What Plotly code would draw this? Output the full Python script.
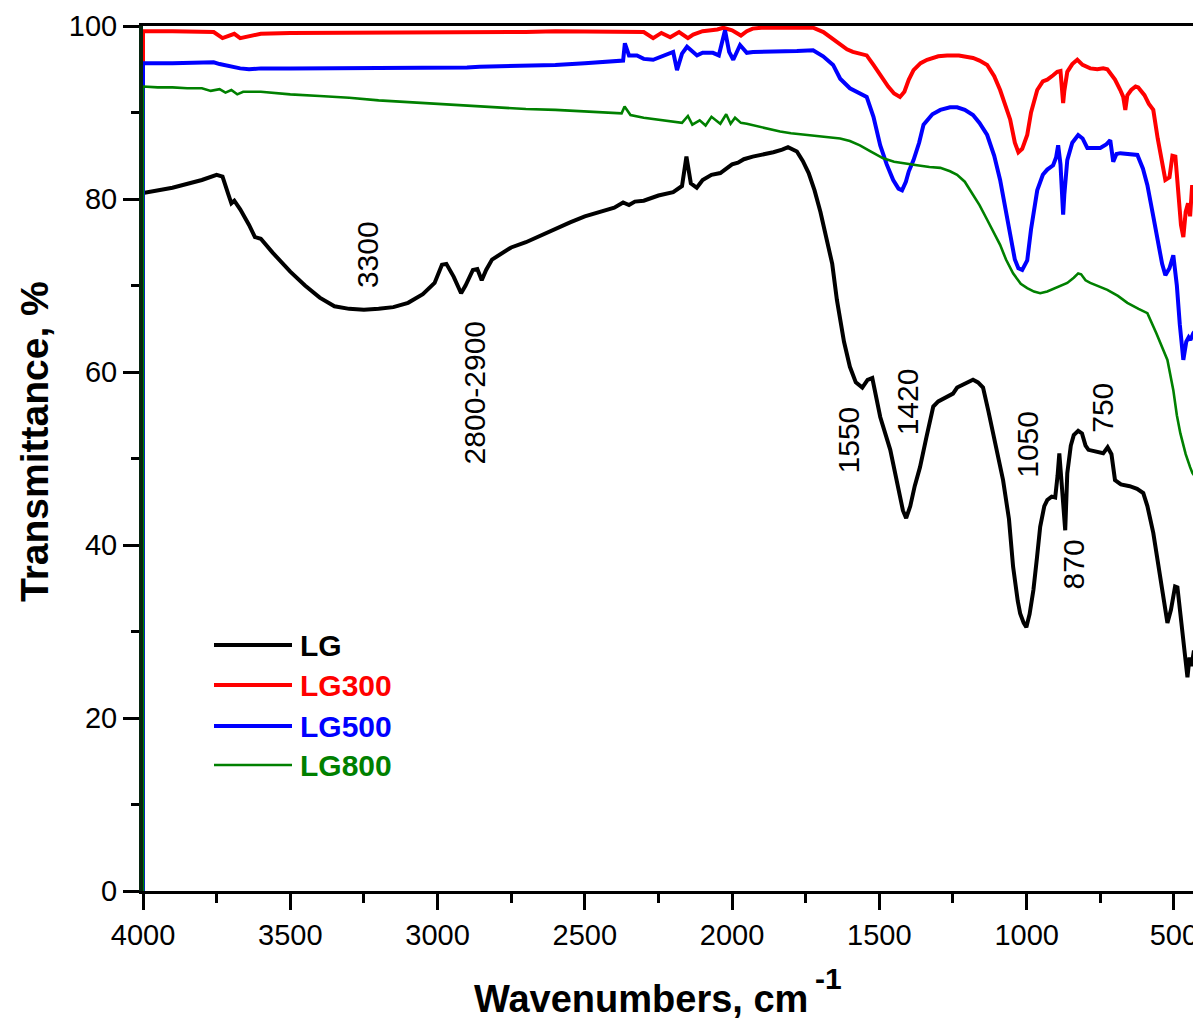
import plotly.graph_objects as go

# ---------------- data ----------------
wn_lg = [4000, 4000, 3900, 3800, 3750, 3730, 3710, 3700, 3690, 3670, 3640, 3620, 3600, 3560, 3500, 3450,
         3400, 3350, 3300, 3250, 3200, 3150, 3100, 3050, 3010, 2985, 2970, 2945, 2920, 2905, 2880, 2865,
         2850, 2835, 2815, 2780, 2750, 2700, 2650, 2600, 2550, 2500, 2450, 2400, 2370, 2350, 2330, 2300,
         2250, 2200, 2170, 2155, 2140, 2120, 2100, 2070, 2040, 2000, 1980, 1960, 1930, 1900, 1860, 1830,
         1810, 1780, 1760, 1740, 1720, 1700, 1680, 1660, 1644, 1620, 1600, 1580, 1558, 1540, 1524, 1510,
         1497, 1463, 1440, 1420, 1409, 1395, 1380, 1362, 1340, 1317, 1300, 1270, 1250, 1236, 1210, 1182,
         1165, 1148, 1130, 1114, 1095, 1080, 1060, 1046, 1030, 1022, 1010, 1001, 990, 977, 965, 954,
         940, 930, 915, 903, 895, 889, 882, 876, 869, 862, 850, 840, 825, 812, 800, 790, 760, 740, 725,
         712, 700, 680, 650, 625, 604, 590, 570, 550, 536, 522, 510, 496, 488, 478, 471, 462, 454, 447,
         440, 432, 424, 416, 408]
t_lg = [0, 80.7, 81.3, 82.2, 82.8, 82.6, 80.5, 79.5, 79.8, 78.8, 77.0, 75.6, 75.4, 73.8, 71.6, 70.0,
        68.6, 67.6, 67.3, 67.2, 67.3, 67.5, 68.0, 69.0, 70.3, 72.4, 72.5, 71.0, 69.1, 70.0, 71.8, 71.9,
        70.6, 71.8, 73.0, 73.8, 74.4, 75.0, 75.8, 76.6, 77.3, 78.0, 78.5, 79.0, 79.6, 79.3, 79.7, 79.8,
        80.4, 80.8, 81.5, 84.9, 81.8, 81.3, 82.2, 82.8, 83.0, 84.0, 84.2, 84.6, 84.9, 85.1, 85.4, 85.7,
        86.0, 85.5, 84.4, 83.0, 81.0, 78.5, 75.5, 72.5, 68.3, 63.5, 60.6, 58.8, 58.2, 59.1, 59.3, 57.0,
        54.8, 51.0, 47.5, 44.0, 43.1, 44.5, 46.8, 49.0, 52.5, 56.0, 56.6, 57.1, 57.5, 58.2, 58.6, 59.1,
        58.8, 58.2, 55.5, 52.9, 50.2, 47.5, 43.0, 37.5, 33.5, 32.1, 31.0, 30.5, 32.0, 34.8, 38.5, 42.1,
        44.5, 45.2, 45.6, 45.5, 48.0, 50.6, 47.5, 44.4, 41.7, 48.3, 51.5, 52.7, 53.2, 52.9, 51.5, 51.0,
        50.8, 50.6, 51.3, 50.5, 47.5, 47.0, 46.8, 46.5, 46.0, 44.5, 41.4, 37.0, 33.6, 31.0, 32.5, 35.2,
        35.1, 32.0, 29.8, 26.5, 24.7, 27.0, 26.0, 27.8, 25.8, 28.2, 26.8]

wn_lg300 = [4000, 4000, 3900, 3800, 3760, 3730, 3710, 3690, 3670, 3640, 3600, 3500, 3400, 3300, 3200,
            3100, 3000, 2900, 2800, 2700, 2600, 2500, 2400, 2300, 2268, 2240, 2210, 2180, 2150, 2132,
            2100, 2050, 2030, 2000, 1970, 1950, 1930, 1900, 1837, 1780, 1725, 1690, 1650, 1633, 1610,
            1590, 1560, 1543, 1520, 1497, 1470, 1450, 1430, 1415, 1400, 1384, 1360, 1338, 1300, 1270,
            1230, 1182, 1160, 1134, 1110, 1090, 1070, 1056, 1040, 1028, 1015, 998, 985, 964, 945, 930,
            910, 896, 885, 880, 876, 872, 862, 845, 828, 810, 795, 784, 760, 740, 726, 700, 682, 672,
            665, 658, 645, 630, 621, 600, 585, 570, 555, 540, 529, 515, 505, 495, 485, 476, 468, 460,
            452, 445, 438, 430, 422, 415, 408]
t_lg300 = [0, 99.4, 99.4, 99.4, 99.3, 98.6, 98.9, 99.1, 98.6, 98.8, 99.1, 99.2, 99.2, 99.2, 99.2,
           99.2, 99.2, 99.2, 99.3, 99.3, 99.4, 99.4, 99.4, 99.3, 98.6, 99.2, 98.7, 99.3, 98.6, 99.0,
           99.4, 99.6, 99.8, 99.5, 98.9, 99.4, 99.7, 99.8, 99.8, 99.8, 99.8, 99.3, 98.3, 97.8, 97.3,
           97.0, 96.8, 96.6, 95.5, 94.3, 93.0, 92.2, 91.8, 92.4, 93.8, 94.9, 95.7, 96.1, 96.5, 96.6,
           96.6, 96.3, 96.0, 95.5, 94.2, 92.6, 90.5, 89.2, 86.5, 85.4, 85.8, 87.4, 90.0, 92.6, 93.6, 93.8,
           94.3, 94.7, 94.8, 92.5, 91.1, 92.5, 94.7, 95.6, 96.1, 95.5, 95.2, 95.1, 95.0, 95.1, 95.0, 93.8,
           92.6, 91.8, 90.3, 92.0, 92.6, 93.0, 92.9, 92.0, 91.0, 90.3, 87.0, 84.0, 82.2, 82.5, 85.0,
           84.9, 81.0, 77.0, 75.6, 78.5, 79.5, 78.0, 81.6, 80.0, 82.5, 80.5, 82.0]

wn_lg500 = [4000, 4000, 3900, 3800, 3760, 3740, 3700, 3670, 3640, 3600, 3500, 3400, 3300, 3200, 3100,
            3000, 2900, 2857, 2700, 2600, 2500, 2404, 2370, 2364, 2350, 2323, 2300, 2268, 2230, 2200,
            2187, 2170, 2153, 2119, 2100, 2065, 2045, 2024, 2010, 1996, 1973, 1950, 1929, 1900, 1837,
            1780, 1725, 1691, 1657, 1633, 1600, 1570, 1543, 1520, 1497, 1475, 1453, 1435, 1423, 1410,
            1400, 1384, 1365, 1350, 1320, 1293, 1260, 1236, 1210, 1182, 1160, 1134, 1110, 1090, 1070,
            1056, 1040, 1028, 1015, 998, 985, 964, 945, 930, 910, 900, 893, 885, 879, 876, 872, 866,
            862, 845, 825, 810, 794, 770, 750, 730, 716, 706, 695, 682, 660, 640, 624, 605, 590, 570,
            556, 540, 529, 515, 502, 490, 480, 468, 458, 450, 444, 434, 425, 415, 410, 408]
t_lg500 = [0, 95.7, 95.7, 95.7, 95.8, 95.6, 95.3, 95.1, 95.0, 95.1, 95.1, 95.1, 95.1, 95.1, 95.1,
           95.1, 95.2, 95.3, 95.4, 95.5, 95.7, 95.9, 96.0, 98.0, 96.6, 96.6, 96.2, 96.1, 96.6, 97.0,
           94.9, 96.8, 97.6, 96.6, 96.9, 96.9, 96.6, 99.5, 97.0, 96.1, 97.8, 96.9, 97.0, 97.0, 97.0,
           97.1, 97.2, 96.5, 95.5, 93.9, 92.8, 92.3, 91.8, 89.5, 86.2, 84.0, 82.2, 81.2, 81.0, 82.0,
           83.2, 84.5, 86.5, 88.6, 89.8, 90.3, 90.6, 90.6, 90.3, 89.7, 88.8, 87.4, 85.0, 82.2, 78.5,
           75.8, 73.0, 72.0, 71.8, 72.9, 76.5, 81.0, 82.8, 83.4, 83.9, 84.8, 86.2, 84.0, 79.5, 78.2, 80.5,
           84.0, 84.5, 86.5, 87.4, 87.0, 85.9, 85.9, 85.9, 86.3, 86.8, 84.3, 85.2, 85.3, 85.2, 85.1,
           85.1, 83.5, 81.6, 78.0, 75.3, 72.5, 71.2, 72.0, 73.5, 70.0, 65.5, 61.4, 63.5, 64.0, 63.7,
           64.5, 64.8, 64.5, 71.0, 71.5]

wn_lg800 = [4000, 4000, 3950, 3900, 3850, 3800, 3770, 3740, 3720, 3700, 3680, 3660, 3600, 3500, 3400,
            3300, 3200, 3100, 3000, 2900, 2800, 2700, 2600, 2500, 2400, 2375, 2365, 2345, 2300, 2200,
            2170, 2150, 2135, 2110, 2090, 2070, 2040, 2020, 2005, 1990, 1970, 1950, 1900, 1837, 1800,
            1750, 1700, 1633, 1600, 1566, 1530, 1500, 1487, 1450, 1400, 1372, 1330, 1293, 1260, 1236,
            1210, 1192, 1160, 1134, 1110, 1090, 1070, 1046, 1020, 998, 975, 954, 930, 900, 862, 840, 825,
            815, 800, 784, 750, 726, 690, 658, 620, 590, 560, 540, 522, 502, 490, 478, 460, 445, 437,
            425, 418, 410]
t_lg800 = [0, 93.0, 92.9, 92.9, 92.8, 92.8, 92.5, 92.7, 92.3, 92.6, 92.1, 92.4, 92.4, 92.1, 91.9,
           91.7, 91.4, 91.2, 91.0, 90.8, 90.6, 90.4, 90.3, 90.1, 89.9, 89.9, 90.7, 89.7, 89.4, 89.0,
           88.8, 89.6, 88.6, 89.1, 88.5, 89.5, 88.7, 89.8, 88.7, 89.4, 88.8, 88.7, 88.3, 87.8, 87.6,
           87.4, 87.2, 87.0, 86.7, 86.2, 85.5, 85.0, 84.7, 84.3, 84.0, 83.9, 83.7, 83.6, 83.2, 82.8,
           82.0, 81.0, 79.3, 77.6, 76.0, 74.7, 73.0, 71.4, 70.2, 69.7, 69.3, 69.1, 69.3, 69.7, 70.3, 70.9,
           71.4, 71.3, 70.6, 70.3, 69.8, 69.5, 68.8, 68.0, 67.3, 66.8, 64.5, 62.8, 61.4, 57.9, 55.0, 52.9,
           50.5, 49.0, 48.3, 47.8, 46.5, 47.5]

series_names = ["LG", "LG300", "LG500", "LG800"]
series_colors = ["#000000", "#FF0000", "#0000FF", "#008000"]
series_widths = [4, 4, 4, 2.6]

x_ticks = [4000, 3500, 3000, 2500, 2000, 1500, 1000, 500]
y_ticks = [0, 20, 40, 60, 80, 100]

peak_labels = ["3300", "2800-2900", "1550", "1420", "1050", "870", "750"]
peak_wn = [3237, 2874, 1606, 1406, 995, 841, 743]
peak_t = [73.6, 57.6, 52.1, 56.5, 51.6, 37.8, 55.9]

# ---------------- figure ----------------
# the page body has an 8 px margin, so the figure is shifted by 8 px
OFF = 8
W, H = 1201 - OFF, 1022 - OFF
ML, MR, MT = 143 - OFF, 0, 26 - OFF
MB = H - (891 - OFF)
PW, PH = W - ML - MR, H - MT - MB


def px(x):  # window pixel -> paper fraction
    return (x - OFF - ML) / PW


def py(y):
    return (H - MB - (y - OFF)) / PH


FONT = "Liberation Sans, Arial, sans-serif"

fig = go.Figure()
xs = [wn_lg, wn_lg300, wn_lg500, wn_lg800]
ys = [t_lg, t_lg300, t_lg500, t_lg800]
for name, x, y, c, w in zip(series_names, xs, ys, series_colors, series_widths):
    fig.add_trace(go.Scatter(x=x, y=y, mode="lines", name=name,
                             line=dict(color=c, width=w), showlegend=False))

annotations = []
for lab, xw, yt in zip(peak_labels, peak_wn, peak_t):
    annotations.append(dict(x=xw, y=yt, xref="x", yref="y", text=lab, showarrow=False,
                            textangle=-90, font=dict(family=FONT, size=30, color="black"),
                            xanchor="center", yanchor="middle"))

# custom legend
shapes = []
leg_y = [645, 685, 726, 765]
for name, c, w, yy in zip(series_names, series_colors, series_widths, leg_y):
    shapes.append(dict(type="line", xref="paper", yref="paper", x0=px(214), x1=px(292),
                       y0=py(yy), y1=py(yy), line=dict(color=c, width=w)))
    annotations.append(dict(x=px(298), y=py(yy), xref="paper", yref="paper", text=name,
                            showarrow=False, xanchor="left", yanchor="middle",
                            font=dict(family=FONT, size=30, color=c, weight="bold")))

# axis titles
annotations.append(dict(x=px(34), y=py(442), xref="paper", yref="paper", text="Transmittance, %",
                        showarrow=False, textangle=-90, xanchor="center", yanchor="middle",
                        font=dict(family=FONT, size=39, color="black", weight="bold")))
annotations.append(dict(x=px(810), y=py(1022), xref="paper", yref="paper", text="Wavenumbers, cm",
                        showarrow=False, xanchor="right", yanchor="bottom",
                        font=dict(family=FONT, size=38, color="black", weight="bold")))
annotations.append(dict(x=px(813), y=py(997), xref="paper", yref="paper", text="-1",
                        showarrow=False, xanchor="left", yanchor="bottom",
                        font=dict(family=FONT, size=30, color="black", weight="bold")))

fig.update_layout(
    width=W, height=H,
    margin=dict(l=ML, r=MR, t=MT, b=MB, autoexpand=False),
    paper_bgcolor="white", plot_bgcolor="white",
    showlegend=False,
    annotations=annotations, shapes=shapes,
    xaxis=dict(range=[4000, 408], tickvals=x_ticks, ticks="outside", ticklen=16, tickwidth=3,
               tickcolor="black", showline=True, linewidth=3, linecolor="black", mirror=True,
               showgrid=False, zeroline=False, automargin=False,
               tickfont=dict(family=FONT, size=29, color="black"),
               minor=dict(dtick=250, ticks="outside", ticklen=9, tickwidth=3, tickcolor="black",
                          showgrid=False)),
    yaxis=dict(range=[0, 100], tickvals=y_ticks, ticks="outside", ticklen=16, tickwidth=3,
               tickcolor="black", showline=True, linewidth=4, linecolor="#06240f", mirror=False,
               showgrid=False, zeroline=False, automargin=False,
               tickfont=dict(family=FONT, size=29, color="black"),
               minor=dict(dtick=10, ticks="outside", ticklen=8, tickwidth=3, tickcolor="black",
                          showgrid=False)),
)

fig.write_html("out.html")
